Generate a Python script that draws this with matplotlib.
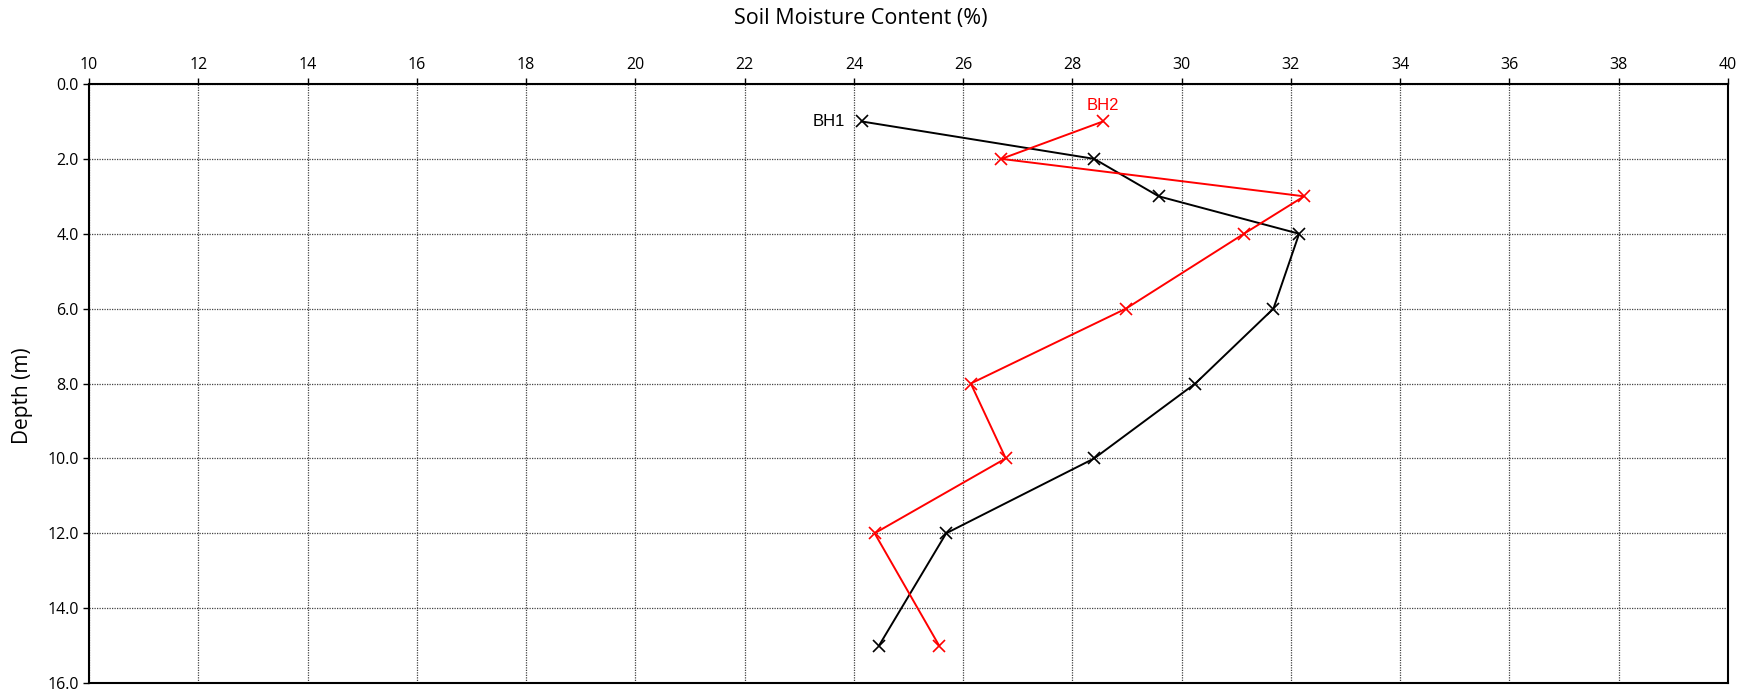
import matplotlib
matplotlib.use("Agg")
import matplotlib.pyplot as plt

# depth (m) and moisture content (%)
bh1_depth = [1, 2, 3, 4, 6, 8, 10, 12, 15]
bh1_moisture = [24.14, 28.40, 29.58, 32.15, 31.68, 30.25, 28.40, 25.69, 24.46]

bh2_depth = [1, 2, 3, 4, 6, 8, 10, 12, 15]
bh2_moisture = [28.56, 26.70, 32.24, 31.14, 28.98, 26.14, 26.78, 24.38, 25.56]

x_ticks = list(range(10, 41, 2))
y_ticks = [0, 2, 4, 6, 8, 10, 12, 14, 16]

plt.rcParams["font.family"] = ["Open Sans", "DejaVu Sans"]

fig = plt.figure(figsize=(17.5, 6.93), dpi=100)
ax = fig.add_axes([0.0509, 0.0144, 0.9365, 0.8644])

ax.plot(bh1_moisture, bh1_depth, color="black", lw=1.4, marker="x", ms=9, mew=1.2)
ax.plot(bh2_moisture, bh2_depth, color="red", lw=1.4, marker="x", ms=9, mew=1.2)

ax.text(bh1_moisture[0] - 0.3, bh1_depth[0], "BH1", color="black", fontsize=12,
        family="Liberation Sans", ha="right", va="center")
ax.text(bh2_moisture[0], bh2_depth[0] - 0.3, "BH2", color="red", fontsize=12,
        family="Liberation Sans", ha="center", va="baseline")

ax.set_xlim(10, 40)
ax.set_ylim(16, 0)
ax.set_xticks(x_ticks)
ax.set_yticks(y_ticks)
ax.set_yticklabels([f"{v:.1f}" for v in y_ticks])
ax.xaxis.tick_top()
ax.xaxis.set_label_position("top")
ax.tick_params(axis="both", labelsize=11.5, length=4, width=1, direction="out", colors="black")
ax.tick_params(axis="x", pad=4)
ax.set_xlabel("Soil Moisture Content (%)", fontsize=15.5)
ax.xaxis.set_label_coords(0.471, 1.100)
ax.set_ylabel("Depth (m)", fontsize=15)
ax.yaxis.set_label_coords(-0.0342, 0.479)

ax.grid(True, color="#444444", linestyle=(0, (1, 1)), linewidth=0.9)
ax.set_axisbelow(True)
for s in ax.spines.values():
    s.set_linewidth(1.5)
    s.set_color("black")

fig.savefig("out.png", dpi=100)
